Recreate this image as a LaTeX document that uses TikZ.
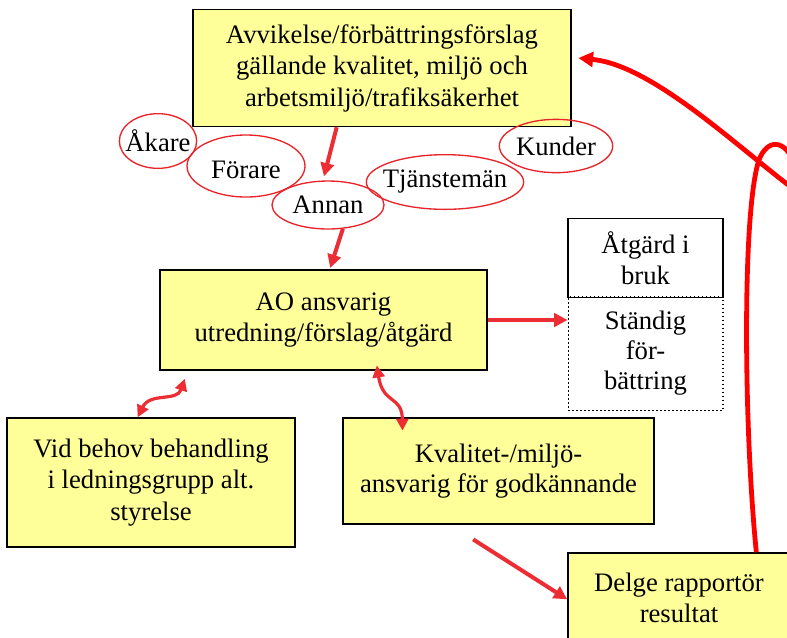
\documentclass[tikz,border=0pt]{standalone}
\usepackage{fontspec}
\setmainfont{Liberation Serif}
\usetikzlibrary{arrows.meta,shapes.geometric}
\definecolor{boxyellow}{RGB}{255,255,153}
\definecolor{arrowred}{RGB}{236,45,52}
\definecolor{ringred}{RGB}{232,35,42}

\begin{document}
\begin{tikzpicture}[x=0.75pt,y=-0.75pt,
    font=\fontsize{20}{23.6}\selectfont,
    box/.style={rectangle,draw,line width=1.1pt,fill=boxyellow,align=center,inner sep=0pt},
    plain/.style={rectangle,align=center,inner sep=0pt,minimum width=116pt},
    person/.style={ellipse,draw=ringred,line width=1pt,inner sep=0pt},
    redarrow/.style={draw=arrowred,line width=3pt,-{Triangle[length=10pt,width=10pt]}},
    wavearrow/.style={draw=arrowred,line width=2.4pt,{Triangle[length=9pt,width=9pt]}-{Triangle[length=9pt,width=9pt]}},
    loopline/.style={draw=red,line width=3.6pt,-{Triangle[length=11pt,width=11pt]}}]
    \useasboundingbox (0,0) rectangle (787,637);
    \clip (0,0) rectangle (787,637);

    \node[box, minimum width=283.5pt, minimum height=87.75pt] (avvikelse) at (382,68) {Avvikelse/förbättringsförslag\\gällande kvalitet, miljö och\\arbetsmiljö/trafiksäkerhet};

    \node[person, minimum width=58pt, minimum height=41pt, label={center:Åkare}] (akare) at (158,141) {};
    \node[person, minimum width=88.5pt, minimum height=46.5pt, label={[yshift=-3pt]center:Förare}] (forare) at (246,166) {};
    \node[person, minimum width=84pt, minimum height=36pt, label={center:Annan}] (annan) at (328,205) {};
    \node[person, minimum width=118pt, minimum height=41pt, label={center:Tjänstemän}] (tjansteman) at (445,182) {};
    \node[person, minimum width=85pt, minimum height=40pt, label={center:Kunder}] (kunder) at (556,146) {};

    \node[box, minimum width=245pt, minimum height=75pt] (ao) at (323.5,320) {AO ansvarig\\utredning/förslag/åtgärd};

    \node[plain, draw, dotted, line width=1pt, minimum height=85pt, font=\fontsize{20}{22.5}\selectfont] (standig) at (645.5,353.5) {Ständig\\för-\\bättring};
    \node[plain, draw, line width=1.1pt, minimum height=59pt] (atgard) at (645.5,258) {Åtgärd i\\bruk};

    \node[box, minimum width=216pt, minimum height=96.75pt] (vid) at (151,482.5) {Vid behov behandling\\i ledningsgrupp alt.\\styrelse};
    \node[box, minimum width=233pt, minimum height=79.5pt, font=\fontsize{20}{22.5}\selectfont] (kvalitet) at (498.5,471) {Kvalitet-/miljö-\\ansvarig för godkännande};

    \node[box, minimum width=166.5pt, minimum height=67.5pt] (delge) at (679,598) {Delge rapportör\\resultat};

    \draw[redarrow] ([xshift=-34pt]avvikelse.south) -- ([xshift=-3pt,yshift=3pt]annan.north);
    \draw[redarrow] (annan.-58) -- ([xshift=5pt,yshift=1pt]ao.north);
    \draw[redarrow] (ao.east) -- (ao.east -| standig.west);
    \draw[wavearrow] ([xshift=19pt,yshift=-6pt]ao.south west) .. controls (177,402) and (150,392) .. ([xshift=-10pt]vid.north);
    \draw[wavearrow] ([xshift=40pt,yshift=4pt]ao.south) .. controls (383,405) and (402,395) .. ([xshift=-72pt,yshift=-10pt]kvalitet.north);
    \draw[redarrow] ([xshift=-19pt,yshift=-11pt]kvalitet.south) -- ([yshift=-1pt]delge.west);
    \draw[loopline] ([xshift=58pt]delge.north) .. controls (744,430) and (742,220) .. (758,163)
        .. controls (764,142) and (782,135) .. (794,162)
        .. controls (801,182) and (797,192) .. (787,184)
        .. controls (730,140) and (650,65) .. ([xshift=5pt,yshift=7.5pt]avvikelse.east);
\end{tikzpicture}
\end{document}
